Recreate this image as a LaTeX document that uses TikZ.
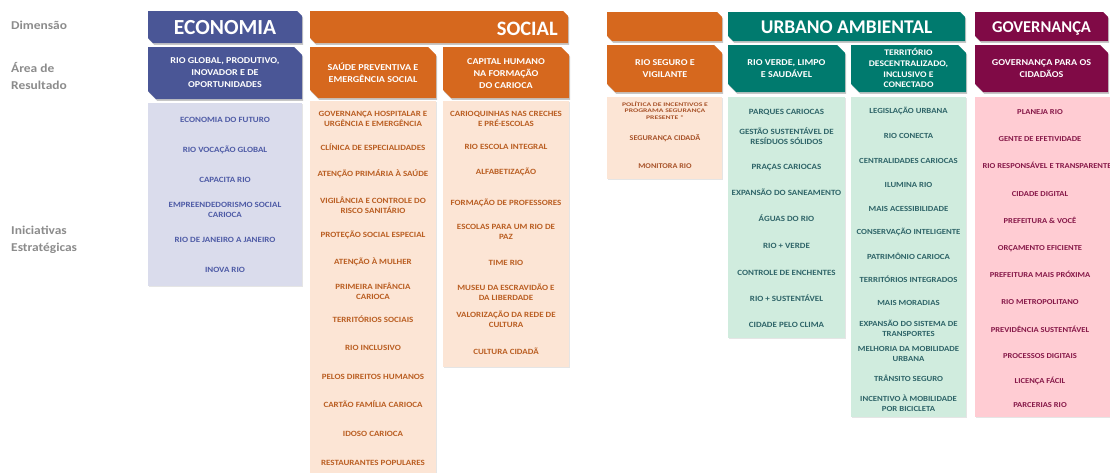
\documentclass[tikz,border=0pt]{standalone}
\usepackage{fontspec}
\setmainfont{Carlito}[FakeStretch=1.12]
\newfontfamily\hd{Carlito}
\newfontfamily\sm{Carlito}[FakeStretch=1.4]
\definecolor{econD}{HTML}{4A5696}
\definecolor{econL}{HTML}{DADCEC}
\definecolor{econT}{HTML}{4E5BA6}
\definecolor{socD}{HTML}{D6681E}
\definecolor{socL}{HTML}{FCE5D5}
\definecolor{socT}{HTML}{BA5E22}
\definecolor{segT}{HTML}{A8532A}
\definecolor{urbD}{HTML}{007A6E}
\definecolor{urbL}{HTML}{D0ECDE}
\definecolor{urbT}{HTML}{2E6468}
\definecolor{govD}{HTML}{800A46}
\definecolor{govL}{HTML}{FFCCD3}
\definecolor{govT}{HTML}{861848}
\definecolor{lab}{HTML}{8C8C8C}
\newcommand\snipbox[6]{%
  \fill[black,opacity=.22,shift={(1.2,1.8)}] (#1,#2) -- (#3-#5,#2) -- (#3,#2+#5) -- (#3,#4) -- (#1+#5,#4) -- (#1,#4-#5) -- cycle;
  \fill[#6] (#1,#2) -- (#3-#5,#2) -- (#3,#2+#5) -- (#3,#4) -- (#1+#5,#4) -- (#1,#4-#5) -- cycle;}
\newcommand\litebox[5]{%
  \fill[black,opacity=.10,shift={(1,1.2)}] (#1,#2) rectangle (#3,#4);
  \fill[#5] (#1,#2) rectangle (#3,#4);}
% multi-line nodes: the given y is the centre of the LAST line
\tikzset{
  hdr/.style={text=white, inner sep=0, anchor=base, yshift=-6.6pt, font=\hd\bfseries\fontsize{20}{22}\selectfont},
  area/.style={text=white, inner sep=0, anchor=base, yshift=-2.9pt, align=center, font=\bfseries\fontsize{9}{12}\selectfont},
  ini/.style={inner sep=0, anchor=base, yshift=-2.6pt, align=center, font=\bfseries\fontsize{8}{10.3}\selectfont},
  lbl/.style={text=lab, inner sep=0, anchor=base west, yshift=-3.9pt, align=left, font=\bfseries\fontsize{12}{17.8}\selectfont}
}
\begin{document}
\begin{tikzpicture}[x=1pt,y=-1pt]
\useasboundingbox (0,0) rectangle (1110,472);
\fill[white] (0,0) rectangle (1110,472);

% left labels
\node[lbl] (lDim) at (11,25.5) {Dimensão};
\node[lbl] (lArea) at (11,86) {Área de\\Resultado};
\node[lbl] (lIni) at (11,248) {Iniciativas\\Estratégicas};

% dimension headers
\snipbox{148}{11}{302}{43}{5}{econD}
\snipbox{310}{11}{568}{43}{5}{socD}
\snipbox{607}{12}{722}{41}{5}{socD}
\snipbox{728}{12}{965}{41}{5}{urbD}
\snipbox{975}{12}{1108}{41}{5}{govD}
\node[hdr, font=\hd\bfseries\fontsize{21.5}{24}\selectfont] (hEcon) at (225,28) {ECONOMIA};
\node[hdr, anchor=base east, font=\hd\bfseries\fontsize{20.5}{24}\selectfont] (hSoc) at (558,29) {SOCIAL};
\node[hdr, font=\hd\bfseries\fontsize{19.4}{24}\selectfont] (hUrb) at (846.5,27) {URBANO AMBIENTAL};
\node[hdr, yshift=1pt, font=\hd\bfseries\fontsize{16.5}{20}\selectfont] (hGov) at (1041.5,27) {GOVERNANÇA};

% result areas
\snipbox{148}{47}{302}{99}{8}{econD}
\snipbox{310}{47}{436}{98}{8}{socD}
\snipbox{443}{47}{569}{98}{8}{socD}
\snipbox{607}{45}{722}{92}{8}{socD}
\snipbox{728}{45}{845}{92}{8}{urbD}
\snipbox{851}{45}{966}{92}{8}{urbD}
\snipbox{975}{45}{1108}{92}{8}{govD}
\node[area] (aEcon) at (225,85) {RIO GLOBAL, PRODUTIVO,\\INOVADOR E DE\\OPORTUNIDADES};
\node[area] (aSoc1) at (373,80) {SAÚDE PREVENTIVA E\\EMERGÊNCIA SOCIAL};
\node[area] (aSoc2) at (506,86) {CAPITAL HUMANO\\NA FORMAÇÃO\\DO CARIOCA};
\node[area] (aSeg) at (665,75) {RIO SEGURO E\\VIGILANTE};
\node[area] (aUrb1) at (786.5,75) {RIO VERDE, LIMPO\\E SAUDÁVEL};
\node[area, font=\bfseries\fontsize{8.6}{10.7}\selectfont] (aUrb2) at (908.5,85) {TERRITÓRIO\\DESCENTRALIZADO,\\INCLUSIVO E\\CONECTADO};
\node[area] (aGov) at (1041.5,75) {GOVERNANÇA PARA OS\\CIDADÃOS};

% initiative boxes
\litebox{148}{103}{302}{286}{econL}
\litebox{310}{101}{436}{473}{socL}
\litebox{443}{101}{569}{367}{socL}
\litebox{607}{97}{722}{179}{socL}
\litebox{728}{97}{845}{338}{urbL}
\litebox{851}{97}{966}{417}{urbL}
\litebox{975}{97}{1111}{417}{govL}

% Economia
\begin{scope}[every node/.style={ini, text=econT}]
\node (e1) at (225,120) {ECONOMIA DO FUTURO};
\node (e2) at (225,150) {RIO VOCAÇÃO GLOBAL};
\node (e3) at (225,180) {CAPACITA RIO};
\node (e4) at (225,215) {EMPREENDEDORISMO SOCIAL\\CARIOCA};
\node (e5) at (225,240) {RIO DE JANEIRO A JANEIRO};
\node (e6) at (225,270) {INOVA RIO};
\end{scope}

% Social 1
\begin{scope}[every node/.style={ini, text=socT}]
\node (s1) at (373,124) {GOVERNANÇA HOSPITALAR E\\URGÊNCIA E EMERGÊNCIA};
\node (s2) at (373,148) {CLÍNICA DE ESPECIALIDADES};
\node (s3) at (373,174) {ATENÇÃO PRIMÁRIA À SAÚDE};
\node (s4) at (373,211) {VIGILÂNCIA E CONTROLE DO\\RISCO SANITÁRIO};
\node (s5) at (373,235) {PROTEÇÃO SOCIAL ESPECIAL};
\node (s6) at (373,262) {ATENÇÃO À MULHER};
\node (s7) at (373,297) {PRIMEIRA INFÂNCIA\\CARIOCA};
\node (s8) at (373,320) {TERRITÓRIOS SOCIAIS};
\node (s9) at (373,348) {RIO INCLUSIVO};
\node (s10) at (373,377) {PELOS DIREITOS HUMANOS};
\node (s11) at (373,405) {CARTÃO FAMÍLIA CARIOCA};
\node (s12) at (373,434) {IDOSO CARIOCA};
\node (s13) at (373,463) {RESTAURANTES POPULARES};
\end{scope}

% Social 2
\begin{scope}[every node/.style={ini, text=socT}]
\node (c1) at (506,124) {CARIOQUINHAS NAS CRECHES\\E PRÉ-ESCOLAS};
\node (c2) at (506,147) {RIO ESCOLA INTEGRAL};
\node (c3) at (506,172) {ALFABETIZAÇÃO};
\node (c4) at (506,203) {FORMAÇÃO DE PROFESSORES};
\node (c5) at (506,237) {ESCOLAS PARA UM RIO DE\\PAZ};
\node (c6) at (506,263) {TIME RIO};
\node (c7) at (506,298) {MUSEU DA ESCRAVIDÃO E\\DA LIBERDADE};
\node (c8) at (506,325) {VALORIZAÇÃO DA REDE DE\\CULTURA};
\node (c9) at (506,352) {CULTURA CIDADÃ};
\end{scope}

% Rio seguro
\begin{scope}[every node/.style={ini, text=segT}]
\node[yshift=0.6pt, font=\sm\bfseries\fontsize{5.5}{6.5}\selectfont] (g1) at (665,117) {POLÍTICA DE INCENTIVOS E\\PROGRAMA SEGURANÇA\\PRESENTE *};
\node[font=\bfseries\fontsize{7.3}{9}\selectfont] (g2) at (665,138) {SEGURANÇA CIDADÃ};
\node[font=\bfseries\fontsize{7.3}{9}\selectfont] (g3) at (665,166) {MONITORA RIO};
\end{scope}

% Urbano 1
\begin{scope}[every node/.style={ini, text=urbT}]
\node (u1) at (786.5,112) {PARQUES CARIOCAS};
\node (u2) at (786.5,142) {GESTÃO SUSTENTÁVEL DE\\RESÍDUOS SÓLIDOS};
\node (u3) at (786.5,167) {PRAÇAS CARIOCAS};
\node (u4) at (786.5,193) {EXPANSÃO DO SANEAMENTO};
\node (u5) at (786.5,219) {ÁGUAS DO RIO};
\node (u6) at (786.5,246) {RIO + VERDE};
\node (u7) at (786.5,273) {CONTROLE DE ENCHENTES};
\node (u8) at (786.5,299) {RIO + SUSTENTÁVEL};
\node (u9) at (786.5,325) {CIDADE PELO CLIMA};
\end{scope}

% Urbano 2
\begin{scope}[every node/.style={ini, text=urbT, font=\bfseries\fontsize{7.8}{9.8}\selectfont}]
\node (t1) at (908.5,111) {LEGISLAÇÃO URBANA};
\node (t2) at (908.5,136) {RIO CONECTA};
\node (t3) at (908.5,161) {CENTRALIDADES CARIOCAS};
\node (t4) at (908.5,185) {ILUMINA RIO};
\node (t5) at (908.5,209) {MAIS ACESSIBILIDADE};
\node (t6) at (908.5,232) {CONSERVAÇÃO INTELIGENTE};
\node (t7) at (908.5,257) {PATRIMÔNIO CARIOCA};
\node (t8) at (908.5,280) {TERRITÓRIOS INTEGRADOS};
\node (t9) at (908.5,303) {MAIS MORADIAS};
\node (t10) at (908.5,334) {EXPANSÃO DO SISTEMA DE\\TRANSPORTES};
\node (t11) at (908.5,359) {MELHORIA DA MOBILIDADE\\URBANA};
\node (t12) at (908.5,379) {TRÂNSITO SEGURO};
\node (t13) at (908.5,409) {INCENTIVO À MOBILIDADE\\POR BICICLETA};
\end{scope}

% Governanca
\begin{scope}[every node/.style={ini, text=govT, font=\bfseries\fontsize{7.6}{9.5}\selectfont}]
\node (v1) at (1040,112) {PLANEJA RIO};
\node (v2) at (1040,139) {GENTE DE EFETIVIDADE};
\node (v3) at (1047,166) {RIO RESPONSÁVEL E TRANSPARENTE};
\node (v4) at (1040,194) {CIDADE DIGITAL};
\node (v5) at (1040,221) {PREFEITURA \& VOCÊ};
\node (v6) at (1040,248) {ORÇAMENTO EFICIENTE};
\node (v7) at (1040,275) {PREFEITURA MAIS PRÓXIMA};
\node (v8) at (1040,302) {RIO METROPOLITANO};
\node (v9) at (1040,330) {PREVIDÊNCIA SUSTENTÁVEL};
\node (v10) at (1040,356) {PROCESSOS DIGITAIS};
\node (v11) at (1040,381) {LICENÇA FÁCIL};
\node (v12) at (1040,405) {PARCERIAS RIO};
\end{scope}
\end{tikzpicture}
\end{document}
